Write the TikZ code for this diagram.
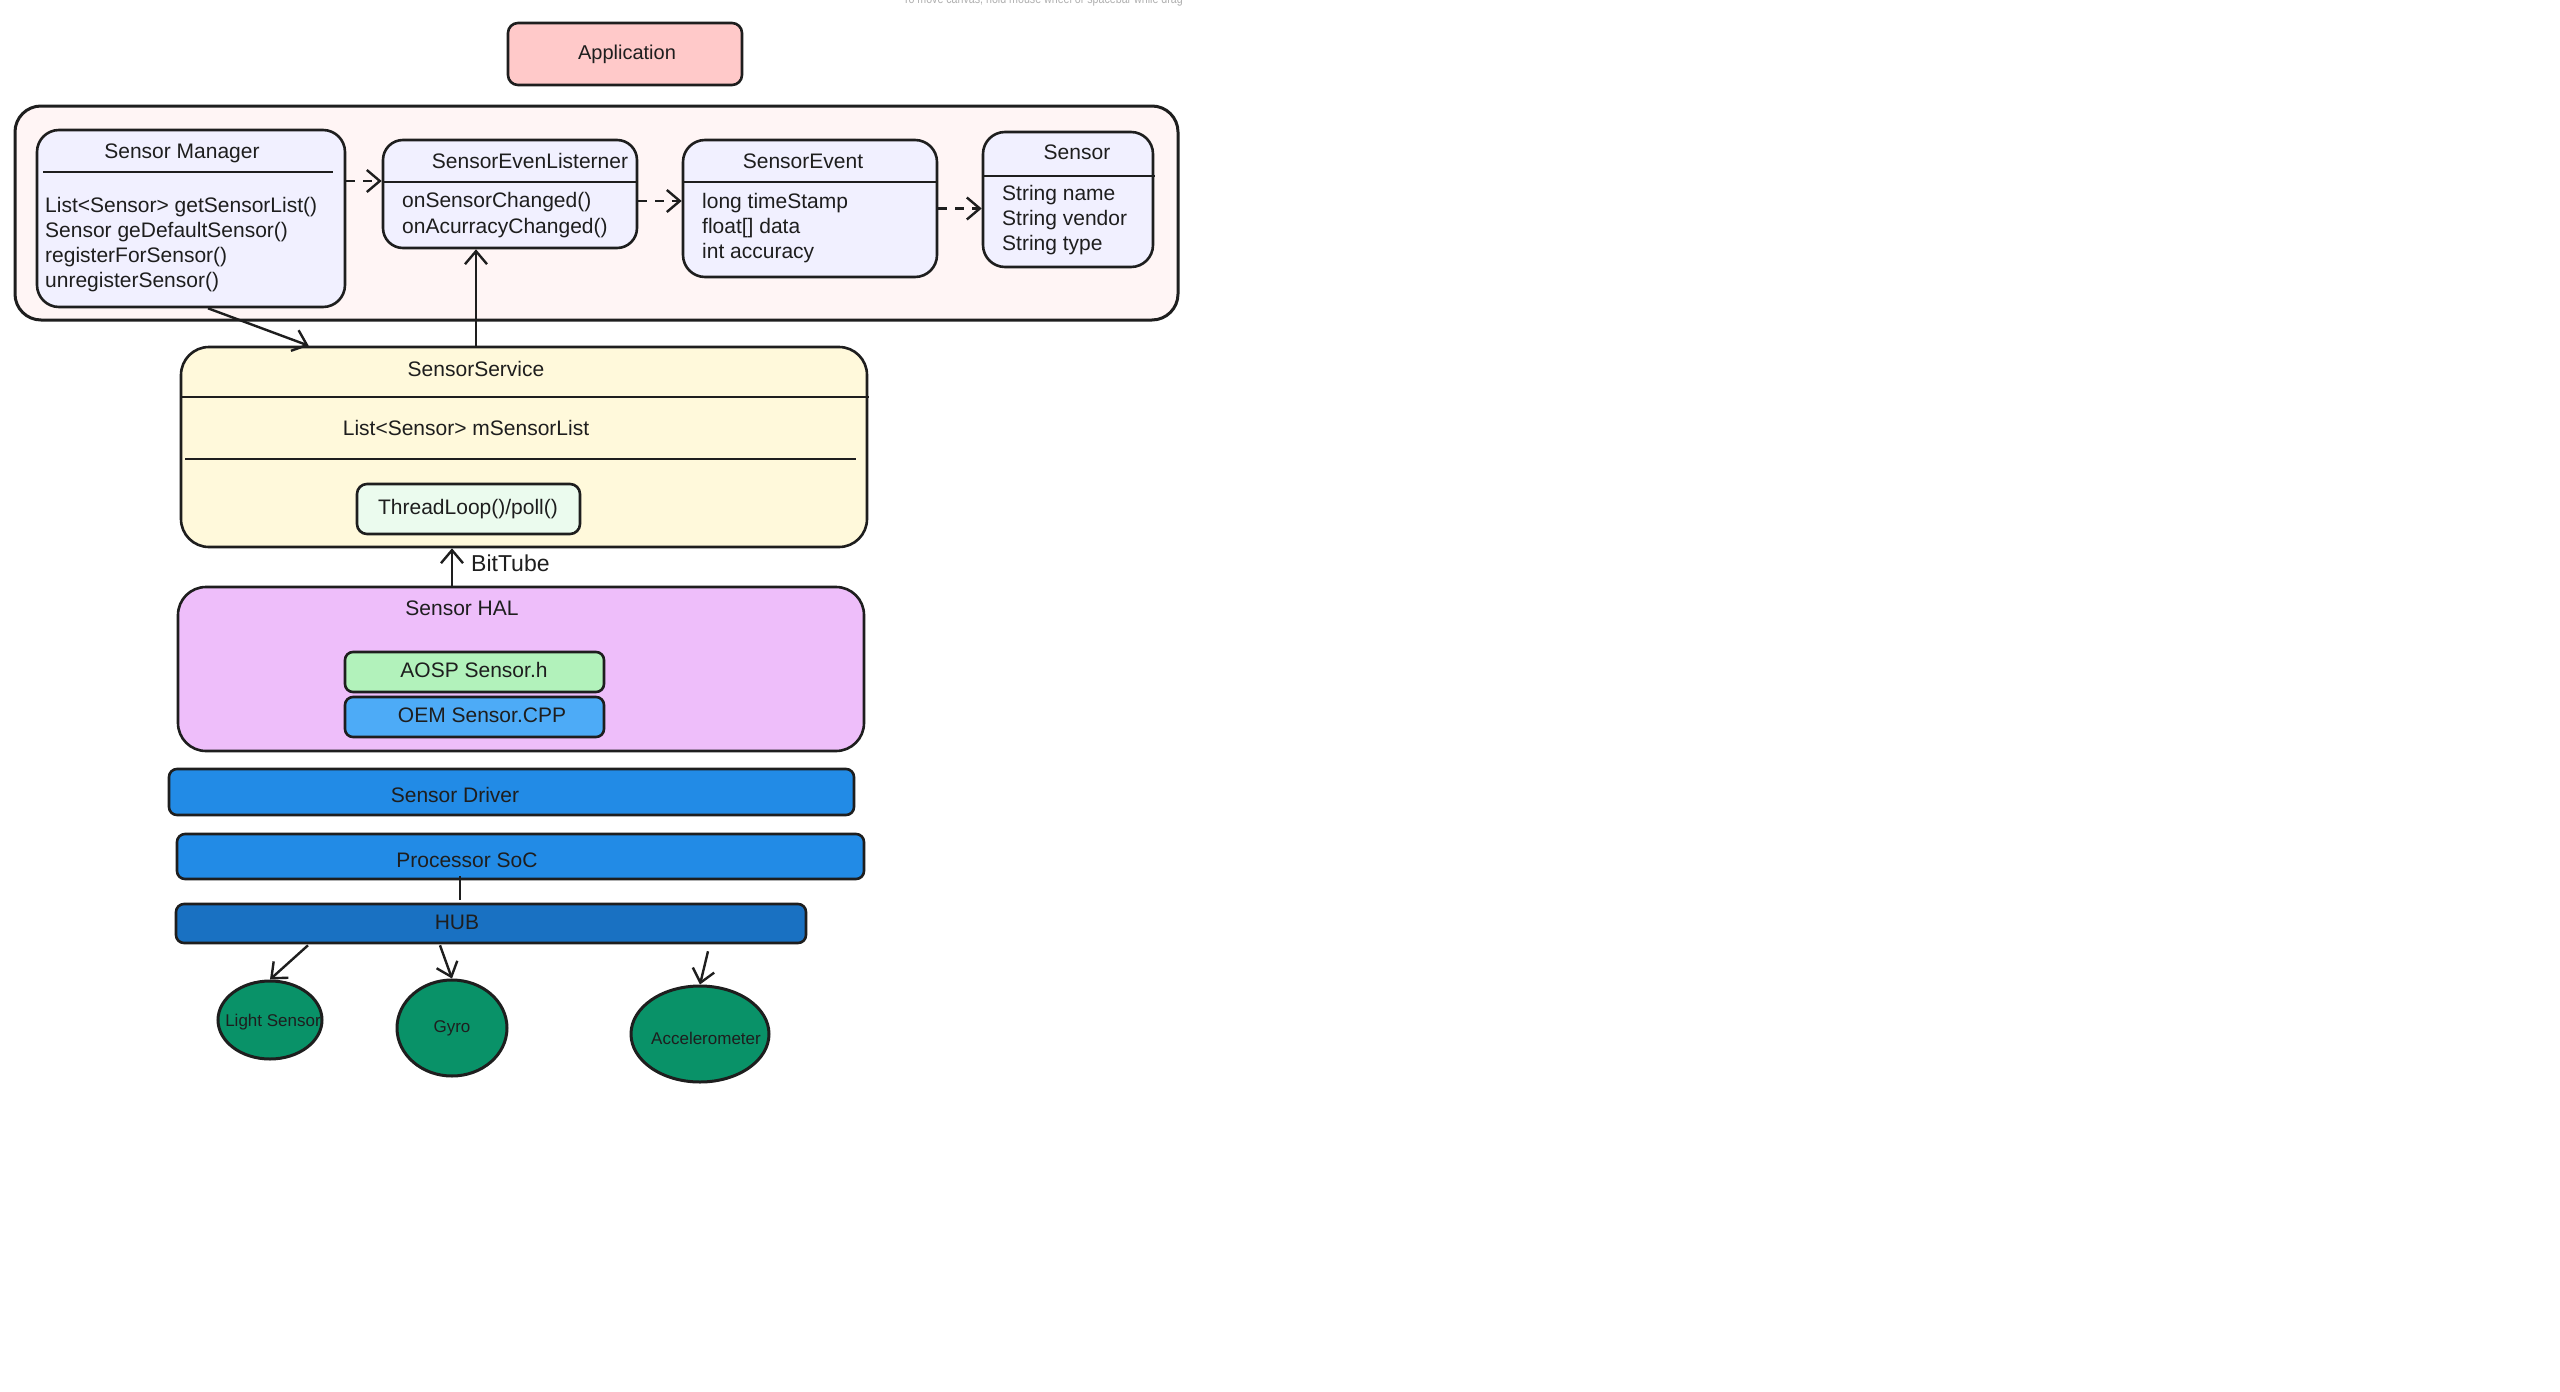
\documentclass[tikz,border=0pt]{standalone}
\usepackage{fontspec}
\setmainfont{Liberation Sans}
\usetikzlibrary{arrows.meta,calc,shapes.geometric}
\definecolor{ink}{HTML}{1E1E1E}
\definecolor{appc}{HTML}{FFC9C9}
\definecolor{contc}{HTML}{FFF5F5}
\definecolor{clsc}{HTML}{F1F0FF}
\definecolor{ssc}{HTML}{FFF9DB}
\definecolor{tlc}{HTML}{EBFBEE}
\definecolor{halc}{HTML}{EEBEFA}
\definecolor{aospc}{HTML}{B2F2BB}
\definecolor{oemc}{HTML}{4DABF7}
\definecolor{drvc}{HTML}{228BE6}
\definecolor{hubc}{HTML}{1971C2}
\definecolor{grn}{HTML}{099268}
\definecolor{hintc}{HTML}{B0B0B0}
\begin{document}
\begin{tikzpicture}[x=1pt,y=-1pt,
  box/.style={draw=ink,line width=2.6pt,rounded corners=#1,inner sep=0pt},
  box/.default=20pt,
  txt/.style={font=\fontsize{21}{25}\selectfont,text=ink,inner sep=0pt,text height=15pt,text depth=5pt},
  small/.style={font=\fontsize{17}{20}\selectfont,text=ink,inner sep=0pt},
  arr/.style={draw=ink,line width=2.4pt,-{Straight Barb[length=13pt,width=22pt]}},
  darr/.style={arr,dash pattern=on 9pt off 8pt},
  ln/.style={draw=ink,line width=2.8pt},
  blob/.style={ellipse,draw=ink,line width=3pt,fill=grn,inner sep=0pt}]
\useasboundingbox (0,0) rectangle (2560,1392);
\fill[white] (0,0) rectangle (2560,1392);

% hint text at top (cut off by the top edge, as in the reference)
\node[font=\fontsize{13}{15}\selectfont,text=hintc,anchor=base west,inner sep=0pt,xscale=0.82] (hint) at (903,4) {To move canvas, hold mouse wheel or spacebar while drag};

% Application
\node[box=10pt,fill=appc,minimum width=234pt,minimum height=62pt] (app) at (625,54) {};
\node[txt,font=\fontsize{20}{24}\selectfont] (appT) at (627,54) {Application};

% container
\node[box=26pt,fill=contc,line width=3pt,minimum width=1163pt,minimum height=214pt] (cont) at (596.5,213) {};

% Sensor Manager
\node[box=22pt,fill=clsc,minimum width=308pt,minimum height=177pt] (sm) at (191,218.5) {};
\draw[ln] (43,172) -- (333,172);
\node[txt] (smT) at (182,153) {Sensor Manager};
\node[txt,anchor=west] (sm1) at (45,207) {List<Sensor> getSensorList()};
\node[txt,anchor=west] (sm2) at (45,232) {Sensor geDefaultSensor()};
\node[txt,anchor=west] (sm3) at (45,257) {registerForSensor()};
\node[txt,anchor=west] (sm4) at (45,282) {unregisterSensor()};

% SensorEvenListerner
\node[box=20pt,fill=clsc,minimum width=254pt,minimum height=108pt] (sel) at (510,194) {};
\draw[ln] (383,182) -- (637,182);
\node[txt] (selT) at (530,163) {SensorEvenListerner};
\node[txt,anchor=west] (sel1) at (402,202) {onSensorChanged()};
\node[txt,anchor=west] (sel2) at (402,228) {onAcurracyChanged()};

% SensorEvent
\node[box=22pt,fill=clsc,minimum width=254pt,minimum height=137pt] (se) at (810,208.5) {};
\draw[ln] (683,182) -- (937,182);
\node[txt] (seT) at (803,163) {SensorEvent};
\node[txt,anchor=west] (se1) at (702,203) {long timeStamp};
\node[txt,anchor=west] (se2) at (702,228) {float[] data};
\node[txt,anchor=west] (se3) at (702,253) {int accuracy};

% Sensor
\node[box=22pt,fill=clsc,minimum width=170pt,minimum height=135pt] (sen) at (1068,199.5) {};
\draw[ln] (983,176) -- (1155,176);
\node[txt] (senT) at (1077,154) {Sensor};
\node[txt,anchor=west] (sen1) at (1002,195) {String name};
\node[txt,anchor=west] (sen2) at (1002,220) {String vendor};
\node[txt,anchor=west] (sen3) at (1002,245) {String type};

% SensorService
\node[box=28pt,fill=ssc,minimum width=686pt,minimum height=200pt] (ss) at (524,447) {};
\draw[ln] (181,397) -- (869,397);
\draw[ln] (185,459) -- (856,459);
\node[txt] (ssT) at (476,371) {SensorService};
\node[txt] (ssL) at (466,430) {List<Sensor> mSensorList};
\node[box=10pt,fill=tlc,minimum width=223pt,minimum height=50pt] (tl) at (468.5,509) {};
\node[txt] (tlT) at (468,509) {ThreadLoop()/poll()};

% Sensor HAL
\node[box=28pt,fill=halc,minimum width=686pt,minimum height=164pt] (hal) at (521,669) {};
\node[txt] (halT) at (462,610) {Sensor HAL};
\node[box=8pt,fill=aospc,minimum width=259pt,minimum height=40pt] (aosp) at (474.5,672) {};
\node[txt] (aospT) at (474,672) {AOSP Sensor.h};
\node[box=8pt,fill=oemc,minimum width=259pt,minimum height=40pt] (oem) at (474.5,717) {};
\node[txt] (oemT) at (482,717) {OEM Sensor.CPP};

% BitTube
\coordinate (bt) at (452,567);
\draw[arr] (hal.north -| bt) -- (ss.south -| bt);
\node[txt,anchor=west,font=\fontsize{23}{27}\selectfont] (btT) at (471,566) {BitTube};

% Driver, SoC, HUB
\node[box=8pt,fill=drvc,minimum width=685pt,minimum height=46pt] (drv) at (511.5,792) {};
\node[txt] (drvT) at (455,797) {Sensor Driver};
\node[box=8pt,fill=drvc,minimum width=687pt,minimum height=45pt] (soc) at (520.5,856.5) {};
\node[txt] (socT) at (467,862) {Processor SoC};
\node[box=8pt,fill=hubc,minimum width=630pt,minimum height=39pt] (hub) at (491,923.5) {};
\node[txt] (hubT) at (457,924) {HUB};
\coordinate (sh) at (460,890);
\draw[draw=ink,line width=2.2pt] ($(soc.south -| sh)+(0,-4)$) -- ($(hub.north -| sh)+(0,-3)$);

% sensors
\node[blob,minimum width=104pt,minimum height=78pt] (ls) at (270,1020) {};
\node[small] (lsT) at (273,1022) {Light Sensor};
\node[blob,minimum width=110pt,minimum height=96pt] (gy) at (452,1028) {};
\node[small] (gyT) at (452,1028) {Gyro};
\node[blob,minimum width=138pt,minimum height=96pt] (acc) at (700,1034) {};
\node[small] (accT) at (706,1038) {Accelerometer};

\draw[arr] ($(hub.south -| ls.north)+(38,1)$) -- (ls.north);
\draw[arr] ($(hub.south -| gy.north)+(-12,1)$) -- (gy.north);
\draw[arr] ($(hub.south -| acc.north)+(8,7)$) -- (acc.north);

% top connectors
\coordinate (r1) at (0,181);
\coordinate (r2) at (0,201);
\draw[darr] (sm.east |- r1) -- (sel.west |- r1);
\draw[darr] (sel.east |- r2) -- (se.west |- r2);
\draw[darr] (se.east) -- (sen.west |- se.east);
\draw[arr] ($(sm.south)+(17,0)$) -- ($(ss.north west)+(129,0)$);
\draw[arr] ($(ss.north -| sel.south)+(-34,0)$) -- ($(sel.south)+(-34,0)$);
\end{tikzpicture}
\end{document}
